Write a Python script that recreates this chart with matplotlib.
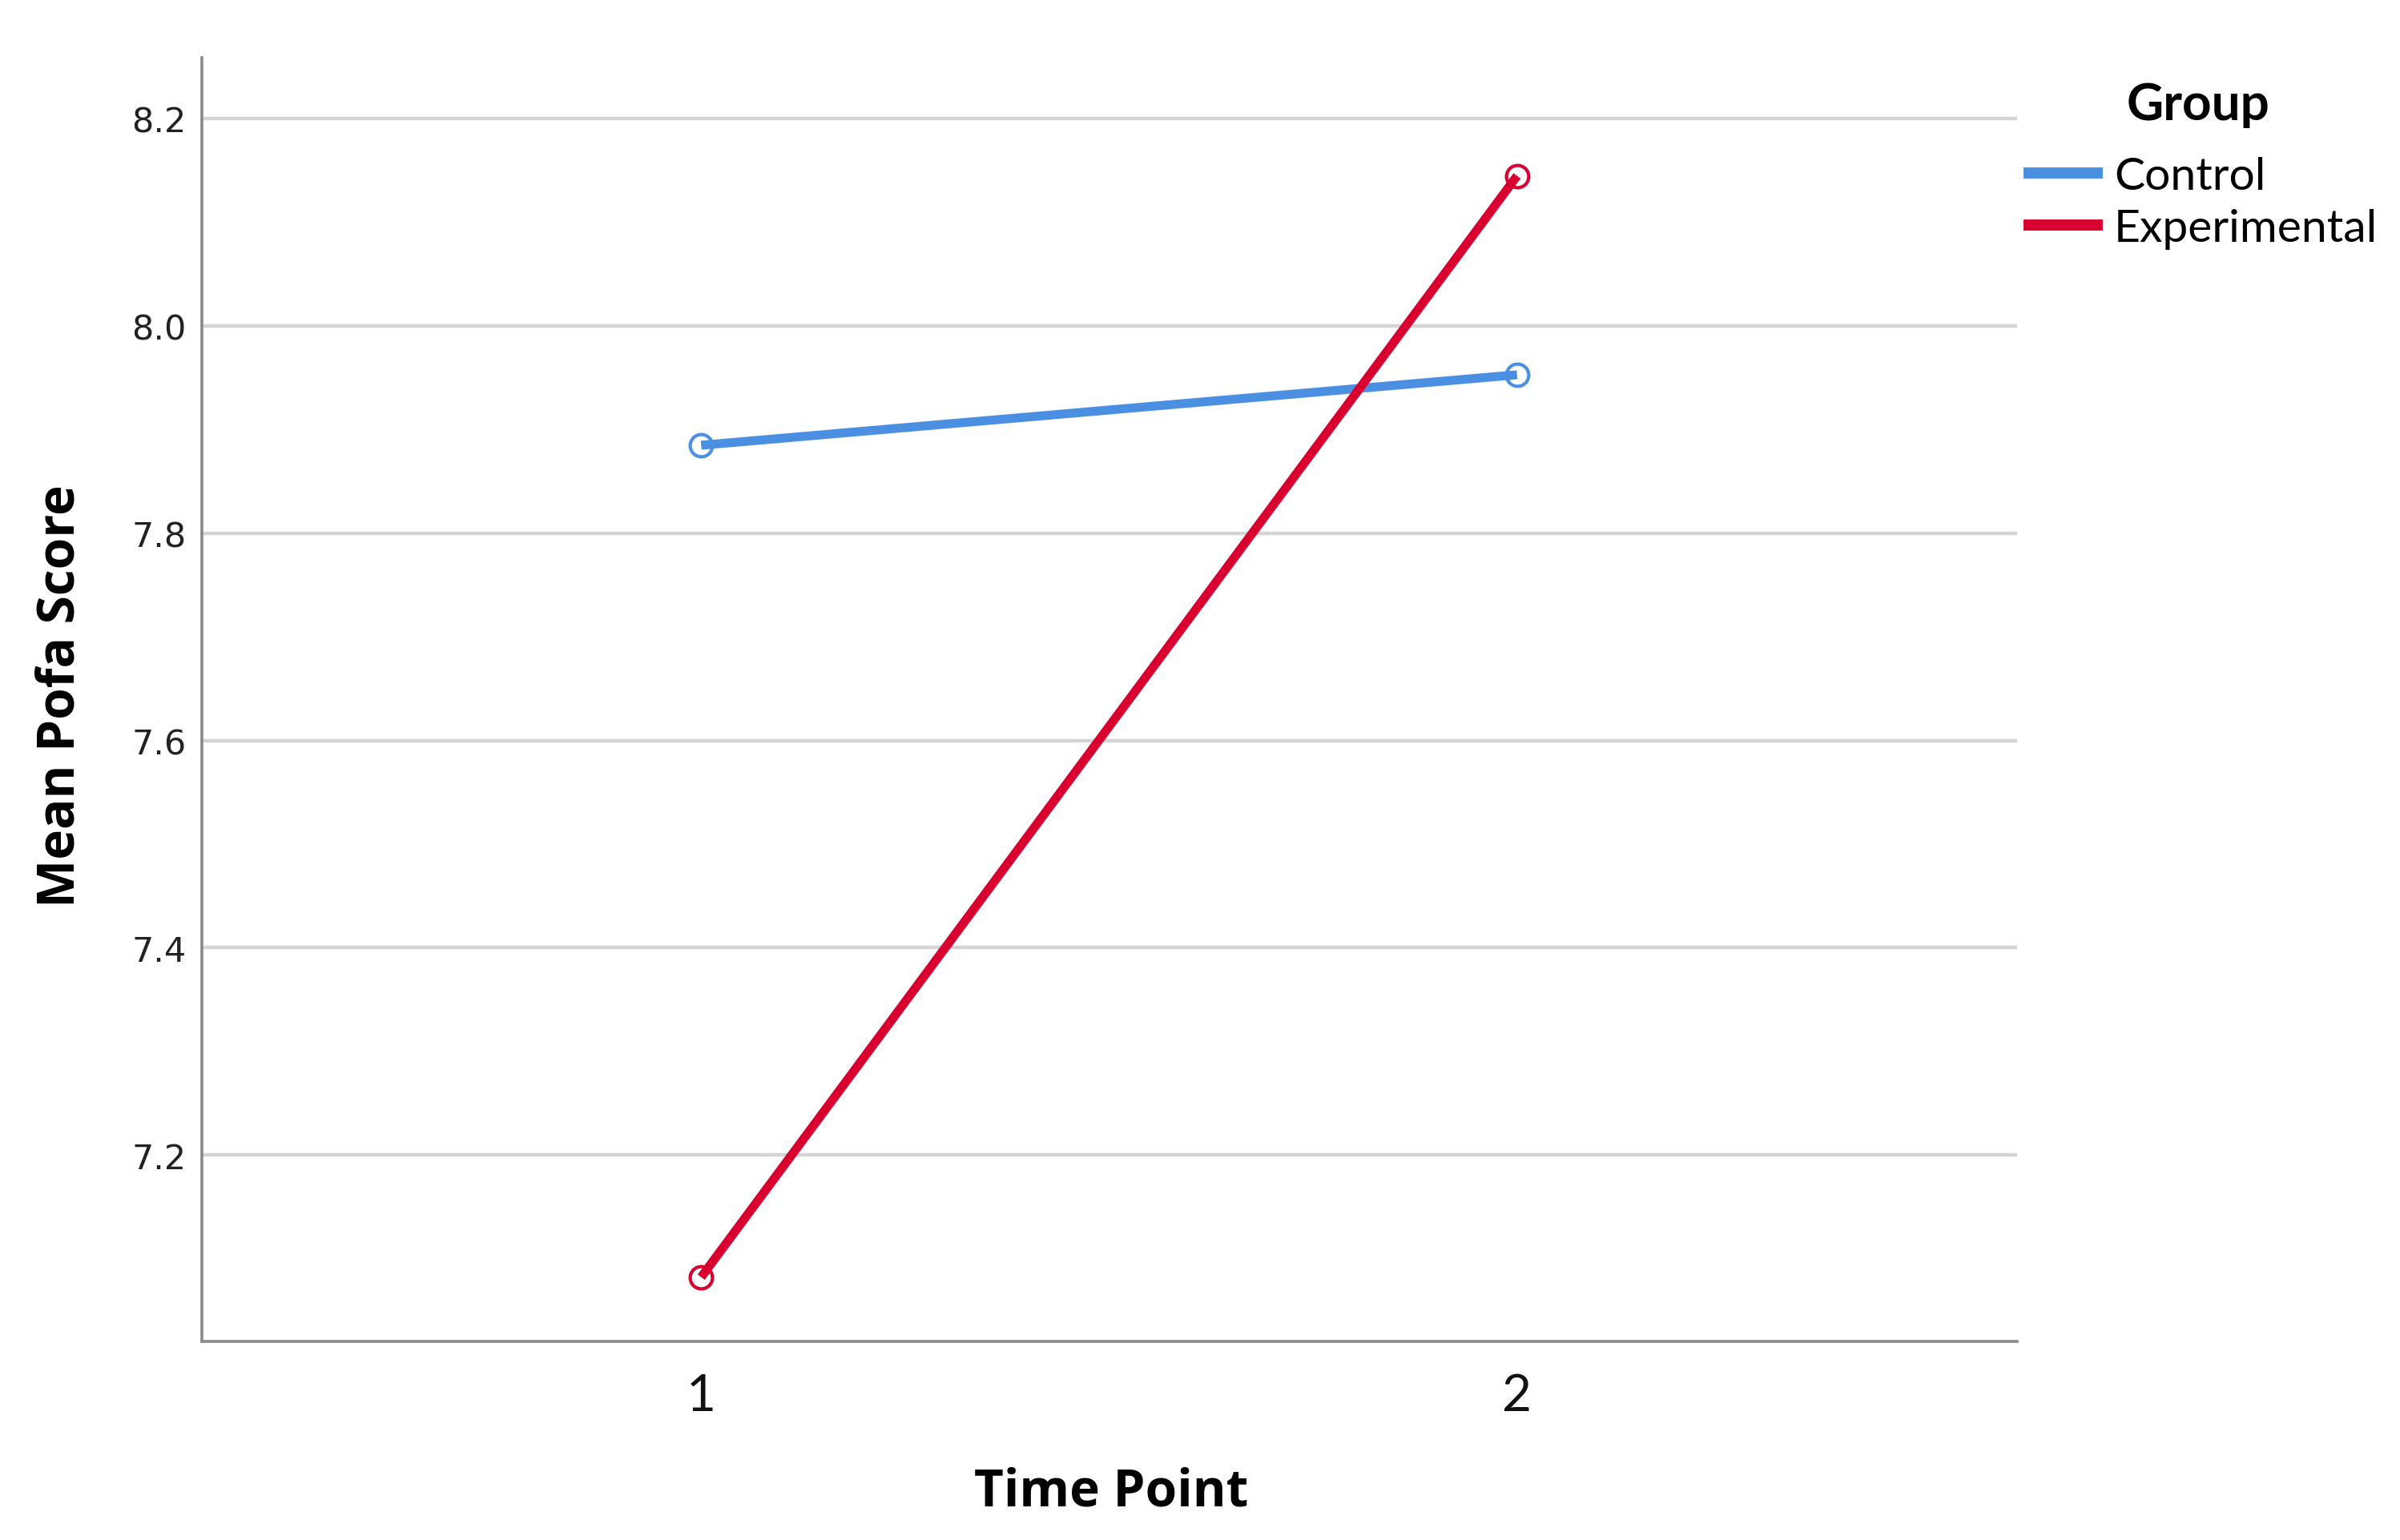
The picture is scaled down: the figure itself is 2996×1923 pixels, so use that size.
import matplotlib
matplotlib.use("Agg")
import matplotlib.pyplot as plt
from matplotlib.lines import Line2D

time_points = [1, 2]
groups = ["Control", "Experimental"]
control_means = [7.885, 7.953]
experimental_means = [7.082, 8.145]
y_ticks = [7.2, 7.4, 7.6, 7.8, 8.0, 8.2]
y_tick_labels = ["7.2", "7.4", "7.6", "7.8", "8.0", "8.2"]
x_tick_labels = ["1", "2"]
colors = ["#4a8fe2", "#d9002f"]

fig = plt.figure(figsize=(14.98, 9.62), dpi=200)
ax = fig.add_axes([0.0841, 0.1289, 0.7564, 0.8331])

series = [control_means, experimental_means]
for vals, col in zip(series, colors):
    ax.plot(time_points, vals, color=col, lw=4.0, solid_capstyle="butt",
            marker="o", markersize=10, markerfacecolor="none",
            markeredgecolor=col, markeredgewidth=1.5, zorder=3)

ax.set_xlim(0.388, 2.613)
ax.set_ylim(7.02, 8.259)
ax.set_yticks(y_ticks)
ax.set_yticklabels(y_tick_labels, fontsize=15.5, family="DejaVu Sans", color="#222222")
ax.set_xticks(time_points)
ax.set_xticklabels(x_tick_labels, fontsize=23, family="Lato", color="#111111")
ax.tick_params(axis="y", length=0, pad=7)
ax.tick_params(axis="x", length=0, pad=14)

ax.grid(axis="y", color="#d4d4d4", lw=1.6, zorder=0)
ax.set_axisbelow(True)
for s in ["top", "right"]:
    ax.spines[s].set_visible(False)
for s in ["left", "bottom"]:
    ax.spines[s].set_color("#8a8a8a")
    ax.spines[s].set_linewidth(1.3)

fig.text(1387 / 2996, 1 - 1864 / 1924, "Time Point", ha="center", va="center",
         fontsize=23, fontweight="bold", family="Open Sans")
fig.text(76 / 2996, 1 - 869 / 1924, "Mean Pofa Score", ha="center", va="center",
         rotation=90, fontsize=23, fontweight="bold", family="Open Sans")

fig.text(2744 / 2996, 1 - 131 / 1924, "Group", ha="center", va="center",
         fontsize=23, fontweight="bold", family="Lato")
handles = [Line2D([0], [0], color=c, lw=5) for c in colors]
leg = fig.legend(handles, groups, loc="upper left",
                 bbox_to_anchor=(2533 / 2996, 1 - 196 / 1924),
                 frameon=False,
                 prop={"family": "Lato", "size": 20.5},
                 handlelength=1.5, handletextpad=0.36, labelspacing=0.24,
                 borderaxespad=0, borderpad=0)

fig.savefig("out.png", dpi=200, facecolor="white")
